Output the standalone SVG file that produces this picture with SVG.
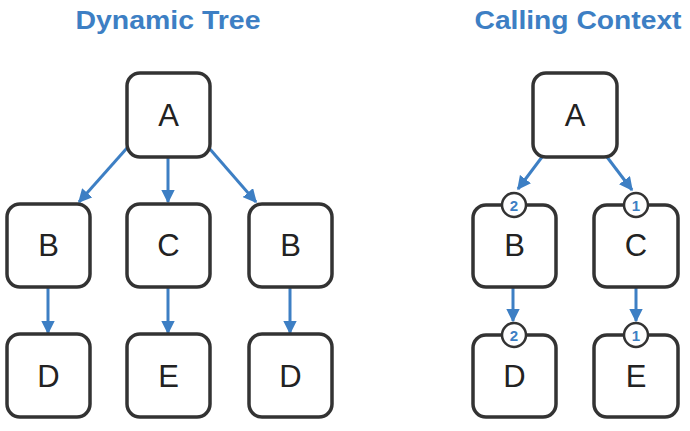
<svg xmlns="http://www.w3.org/2000/svg" width="690" height="431" viewBox="0 0 690 431">
<defs>
<marker id="ah" viewBox="0 0 10 10" refX="9" refY="5" markerWidth="4.6" markerHeight="4.6" orient="auto" markerUnits="strokeWidth">
<path d="M0,0 L10,5 L0,10 z" fill="#3d7fc4"/>
</marker>
<style>
.box{fill:#fff;stroke:#333;stroke-width:3.5}
.lbl{font-family:"Liberation Sans",Arial,sans-serif;font-size:31px;fill:#222;text-anchor:middle}
.title{font-family:"Liberation Sans",Arial,sans-serif;font-weight:bold;font-size:26px;fill:#3d7fc4;text-anchor:middle}
.edge{stroke:#3d7fc4;stroke-width:3;fill:none;marker-end:url(#ah)}
.badge{fill:#fff;stroke:#333;stroke-width:2.5}
.num{font-family:"Liberation Sans",Arial,sans-serif;font-weight:bold;font-size:15px;fill:#3d7fc4;text-anchor:middle}
</style>
</defs>
<rect width="690" height="431" fill="#fff"/>
<text class="title" x="168" y="29" textLength="185" lengthAdjust="spacingAndGlyphs">Dynamic Tree</text>
<text class="title" x="578" y="29" textLength="207" lengthAdjust="spacingAndGlyphs">Calling Context</text>

<g id="edges">
<line class="edge" x1="127" y1="148" x2="79" y2="202"/>
<line class="edge" x1="168" y1="157" x2="168" y2="202"/>
<line class="edge" x1="209" y1="148" x2="256" y2="202"/>
<line class="edge" x1="48" y1="287" x2="48" y2="333"/>
<line class="edge" x1="168" y1="287" x2="168" y2="333"/>
<line class="edge" x1="290" y1="287" x2="290" y2="333"/>
<line class="edge" x1="542" y1="157" x2="518" y2="189"/>
<line class="edge" x1="607" y1="157" x2="632" y2="190"/>
<line class="edge" x1="513" y1="287" x2="513" y2="321"/>
<line class="edge" x1="636" y1="287" x2="636" y2="321"/>
</g>

<g id="dt-A"><rect class="box" x="127" y="73" width="83" height="84" rx="13"/><text class="lbl" x="168.5" y="126">A</text></g>
<g id="dt-B1"><rect class="box" x="7" y="204" width="83" height="83" rx="13"/><text class="lbl" x="48.5" y="256">B</text></g>
<g id="dt-C"><rect class="box" x="127" y="204" width="83" height="83" rx="13"/><text class="lbl" x="168.5" y="256">C</text></g>
<g id="dt-B2"><rect class="box" x="249" y="204" width="83" height="83" rx="13"/><text class="lbl" x="290.5" y="256">B</text></g>
<g id="dt-D1"><rect class="box" x="7" y="334" width="83" height="83" rx="13"/><text class="lbl" x="48.5" y="387">D</text></g>
<g id="dt-E"><rect class="box" x="127" y="334" width="83" height="83" rx="13"/><text class="lbl" x="168.5" y="387">E</text></g>
<g id="dt-D2"><rect class="box" x="249" y="334" width="83" height="83" rx="13"/><text class="lbl" x="290.5" y="387">D</text></g>

<g id="cc-A"><rect class="box" x="533" y="73" width="84" height="84" rx="13"/><text class="lbl" x="575" y="126">A</text></g>
<g id="cc-B"><rect class="box" x="473" y="205" width="83" height="82" rx="13"/><text class="lbl" x="514.5" y="256">B</text>
<circle class="badge" cx="514" cy="205" r="12"/><text class="num" x="514" y="210.5">2</text></g>
<g id="cc-C"><rect class="box" x="594" y="205" width="84" height="82" rx="13"/><text class="lbl" x="636" y="256">C</text>
<circle class="badge" cx="636" cy="205" r="12"/><text class="num" x="636" y="210.5">1</text></g>
<g id="cc-D"><rect class="box" x="473" y="335" width="83" height="82" rx="13"/><text class="lbl" x="514.5" y="387">D</text>
<circle class="badge" cx="514" cy="335" r="12"/><text class="num" x="514" y="340.5">2</text></g>
<g id="cc-E"><rect class="box" x="594" y="335" width="84" height="82" rx="13"/><text class="lbl" x="636" y="387">E</text>
<circle class="badge" cx="636" cy="335" r="12"/><text class="num" x="636" y="340.5">1</text></g>
</svg>
